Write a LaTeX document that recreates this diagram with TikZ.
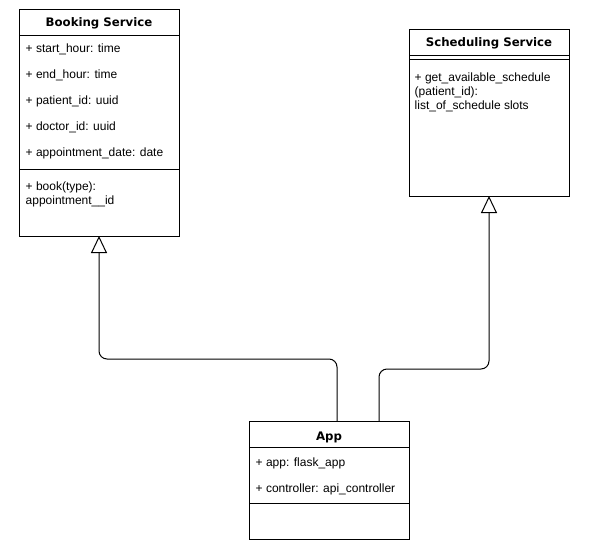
\documentclass[tikz,border=0pt]{standalone}
\usepackage{fontspec}
\setmainfont{Liberation Sans}
\newfontfamily\hdrfont{DejaVu Sans}
\usetikzlibrary{arrows.meta}
\begin{document}
\begin{tikzpicture}[x=1pt,y=-1pt,
  box/.style={draw=black,line width=1pt,fill=white},
  sep/.style={draw=black,line width=1pt},
  hdr/.style={inner sep=0pt,anchor=base,font=\hdrfont\bfseries\fontsize{11.75}{14}\selectfont},
  attr/.style={inner sep=0pt,anchor=base west,font=\fontsize{12}{14}\selectfont},
  inherit/.style={draw=black,line width=1pt,rounded corners=8pt,
    -{Triangle[open,width=16pt,length=17pt,fill=white]}}]
\useasboundingbox (0,0) rectangle (589,557);
% Booking Service
\draw[box] (19,9) rectangle (179,236);
\draw[sep] (19,35) -- (179,35);
\draw[sep] (19,169) -- (179,169);
\node[hdr] (bkh) at (99,26.5) {Booking Service};
\node[attr] (bk1) at (25.5,52) {+ start\_hour: time};
\node[attr] (bk2) at (25.5,78) {+ end\_hour: time};
\node[attr] (bk3) at (25.5,104) {+ patient\_id: uuid};
\node[attr] (bk4) at (25.5,130) {+ doctor\_id: uuid};
\node[attr] (bk5) at (25.5,156) {+ appointment\_date: date};
\node[attr] (bk6) at (25.5,190) {+ book(type):};
\node[attr] (bk7) at (25.5,204) {appointment\_\_id};
\coordinate (bkb) at (99,236);
% Scheduling Service
\draw[box] (409,29) rectangle (569,196);
\draw[sep] (409,55) -- (569,55);
\draw[sep] (409,59) -- (569,59);
\node[hdr] (sch) at (489,46.5) {Scheduling Service};
\node[attr] (sc1) at (414.5,81.5) {+ get\_available\_schedule};
\node[attr] (sc2) at (414.5,95.5) {(patient\_id):};
\node[attr] (sc3) at (414.5,109.5) {list\_of\_schedule slots};
\coordinate (scb) at (489,196);
% App
\draw[box] (249,421) rectangle (409,539);
\draw[sep] (249,447) -- (409,447);
\draw[sep] (249,503) -- (409,503);
\node[hdr] (aph) at (329,440) {App};
\node[attr] (ap1) at (255.5,466) {+ app: flask\_app};
\node[attr] (ap2) at (255.5,492) {+ controller: api\_controller};
\coordinate (apa) at (337,421);
\coordinate (apb) at (379,421);
% connectors
\draw[inherit] (apa) -- (337,359) -- (99,359) -- (bkb);
\draw[inherit] (apb) -- (379,369) -- (489,369) -- (scb);
\end{tikzpicture}
\end{document}
